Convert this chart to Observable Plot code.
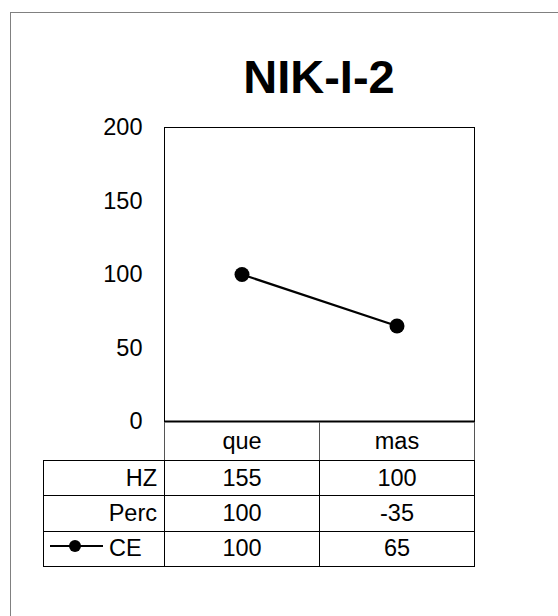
<!DOCTYPE html>
<html><head><meta charset="utf-8">
<script src="https://cdn.jsdelivr.net/npm/d3@7"></script>
<script src="https://cdn.jsdelivr.net/npm/@observablehq/plot@0.6"></script>
<style>
html,body{margin:0;padding:0;background:#fff;}
#wrap{position:relative;width:558px;height:616px;overflow:hidden;font-family:"Liberation Sans",Arial,sans-serif;background:#fff;color:#000;}
#wrap svg{position:absolute;left:0;top:0;}
#border{position:absolute;left:10px;top:12px;width:700px;height:800px;border-left:1px solid #808080;border-top:1px solid #808080;}
#title{position:absolute;font-weight:bold;font-size:47px;line-height:47px;text-align:center;}
.cell{position:absolute;box-sizing:border-box;display:flex;align-items:center;justify-content:center;font-size:23.5px;border:1px solid #000;white-space:nowrap;}
</style></head>
<body>
<div id="wrap"></div>
<script>
const categories = ["que", "mas"];
const rowLabels = ["HZ", "Perc", "CE"];
const hzValues = [155, 100];
const percValues = [100, -35];
const ceValues = [100, 65];
const yTicks = [0, 50, 100, 150, 200];
const titleText = "NIK-I-2";

const ceData = categories.map((c, i) => ({cat: c, value: ceValues[i]}));
const tableRows = [
  {label: rowLabels[0], values: hzValues},
  {label: rowLabels[1], values: percValues},
  {label: rowLabels[2], values: ceValues, swatch: true}
];

const wrap = document.getElementById("wrap");

const chart = Plot.plot({
  width: 558, height: 616,
  marginLeft: 164, marginRight: 84, marginTop: 127, marginBottom: 195,
  style: {fontFamily: '"Liberation Sans", Arial, sans-serif', background: "transparent", color: "#000"},
  x: {type: "band", domain: categories, padding: 0, axis: null},
  y: {domain: [0, 200]},
  marks: [
    Plot.frame({stroke: "#000"}),
    Plot.axisY({ticks: yTicks, tickSize: 0, tickPadding: 22, fontSize: 23.5, label: null}),
    Plot.ruleY([0], {stroke: "#000", strokeWidth: 2}),
    Plot.line(ceData, {x: "cat", y: "value", stroke: "#000", strokeWidth: 2.2}),
    Plot.dot(ceData, {x: "cat", y: "value", r: 7.5, fill: "#000", stroke: "none"})
  ]
});
wrap.appendChild(chart);

const border = document.createElement("div");
border.id = "border";
wrap.appendChild(border);

const xs = chart.scale("x");
const ys = chart.scale("y");
const bw = xs.bandwidth;
const x0 = xs.apply(categories[0]);
const xEnd = xs.apply(categories[categories.length - 1]) + bw;

// title
const t = document.createElement("div");
t.id = "title";
t.textContent = titleText;
t.style.left = ((x0 + xEnd) / 2 - 200) + "px";
t.style.width = "400px";
t.style.top = "53px";
wrap.appendChild(t);

// data table
const tableLeft = 43;
const zeroY = ys.apply(0);
const headerH = 39, rowH = 35.3;
const colX = [tableLeft, ...categories.map(c => xs.apply(c))];
const colW = [x0 - tableLeft, ...categories.map(() => bw)];

function cell(left, top, w, h, text, opts = {}) {
  const d = document.createElement("div");
  d.className = "cell";
  d.style.left = left + "px";
  d.style.top = top + "px";
  d.style.width = (w + 1) + "px";
  d.style.height = (h + 1) + "px";
  if (opts.noTop) d.style.borderTop = "none";
  if (opts.gray) { d.style.borderLeftColor = "#555"; d.style.borderRightColor = "#555"; }
  if (opts.right) { d.style.justifyContent = "flex-end"; d.style.paddingRight = "7px"; }
  if (opts.left) { d.style.justifyContent = "flex-start"; d.style.paddingLeft = "6px"; }
  d.textContent = text;
  wrap.appendChild(d);
  return d;
}

// header row = category labels
categories.forEach((c, i) => {
  cell(colX[i + 1], zeroY + 1, colW[i + 1], headerH - 1, c, {noTop: true, gray: true});
});

tableRows.forEach((r, ri) => {
  const top = zeroY + headerH + ri * rowH;
  let lc;
  if (r.swatch) {
    lc = cell(colX[0], top, colW[0], rowH, "", {left: true});
    const ns = "http://www.w3.org/2000/svg";
    const s = document.createElementNS(ns, "svg");
    s.setAttribute("width", 54); s.setAttribute("height", 14);
    s.style.position = "relative"; s.style.top = "-3px"; s.style.marginRight = "5px";
    const ln = document.createElementNS(ns, "line");
    ln.setAttribute("x1", 0); ln.setAttribute("x2", 53); ln.setAttribute("y1", 7); ln.setAttribute("y2", 7);
    ln.setAttribute("stroke", "#000"); ln.setAttribute("stroke-width", 2.2);
    const ci = document.createElementNS(ns, "circle");
    ci.setAttribute("cx", 25); ci.setAttribute("cy", 7); ci.setAttribute("r", 6); ci.setAttribute("fill", "#000");
    s.appendChild(ln); s.appendChild(ci);
    lc.appendChild(s);
    const sp = document.createElement("span");
    sp.textContent = r.label;
    lc.appendChild(sp);
  } else {
    lc = cell(colX[0], top, colW[0], rowH, r.label, {right: true});
  }
  r.values.forEach((v, ci) => {
    cell(colX[ci + 1], top, colW[ci + 1], rowH, String(v));
  });
});
</script>
</body></html>
